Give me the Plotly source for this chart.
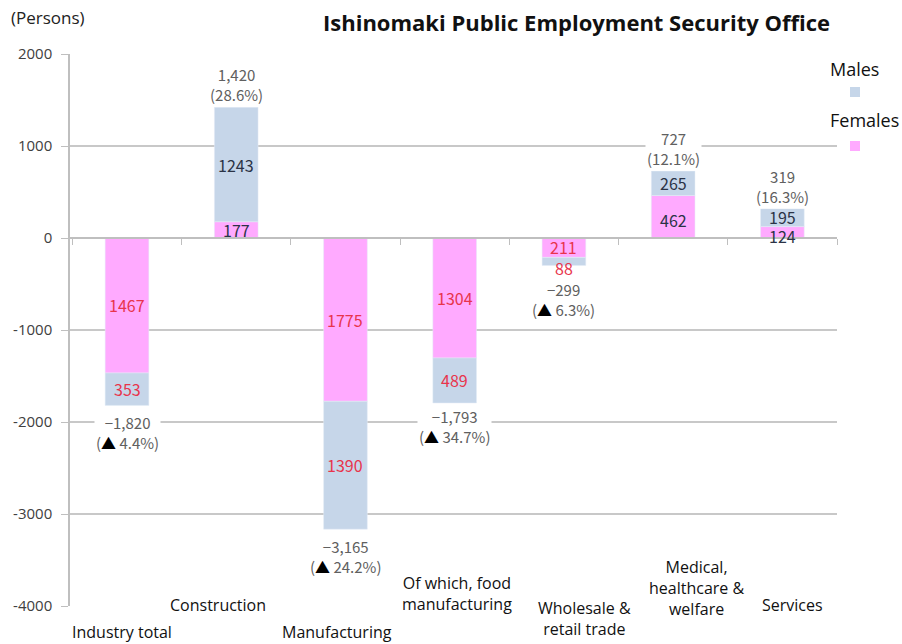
import plotly.graph_objects as go

# ---------------- data ----------------
categories = ["Industry total", "Construction", "Manufacturing",
              "Of which, food manufacturing", "Wholesale & retail trade",
              "Medical, healthcare & welfare", "Services"]
category_labels = ["Industry total", "Construction", "Manufacturing",
                   "Of which, food<br>manufacturing", "Wholesale &<br>retail trade",
                   "Medical,<br>healthcare &<br>welfare", "Services"]
females = [-1467, 177, -1775, -1304, -211, 462, 124]
males = [-353, 1243, -1390, -489, -88, 265, 195]
change_pct = [-4.4, 28.6, -24.2, -34.7, -6.3, 12.1, 16.3]
y_ticks = [2000, 1000, 0, -1000, -2000, -3000, -4000]

# ---------------- style ----------------
W, H = 902, 644
L, R, T, B = 70, 65, 54, 38
PW, PH = W - L - R, H - T - B
C_MALE = "#c6d6e9"
C_FEMALE = "#ffaaff"
C_NEG = "#e8344c"
C_POS = "#2b3346"
CJK = "Noto Sans CJK JP"
SANS = "Open Sans"

# pixel nudges for value labels (style only)
female_lab_dy = [0, 0, 0, 0, 1, -3, -4]
male_lab_dy = [0, 0, 0, 0, -7, 0, 1]
total_lab_dy = [-5, 0, -5, -1, -11, 0, 0]
cat_lab_dy = [-26, 1, -26, 13, -12, 18, 1]
cat_lab_dx = [-5, -18, -8, 2, 21, 23, 10]


def xp(px):
    return (px - L) / PW


def yp(py):
    return (H - B - py) / PH


fig = go.Figure()
fig.add_trace(go.Bar(x=categories, y=females, name="Females",
                     marker_color=C_FEMALE, showlegend=False, hoverinfo="skip"))
fig.add_trace(go.Bar(x=categories, y=males, name="Males",
                     marker_color=C_MALE, showlegend=False, hoverinfo="skip"))

annotations = []
# segment values
for cat, f, m, dyf, dym in zip(categories, females, males, female_lab_dy, male_lab_dy):
    for val, mid, dy in ((f, f / 2, dyf), (m, f + m / 2, dym)):
        annotations.append(dict(
            x=cat, y=mid, xref="x", yref="y", text=str(abs(val)),
            showarrow=False, yanchor="middle", yshift=dy, borderpad=0,
            font=dict(family=CJK, size=16, color=C_NEG if val < 0 else C_POS)))

# totals with change rates
for cat, f, m, p, dy in zip(categories, females, males, change_pct, total_lab_dy):
    tot = f + m
    if tot >= 0:
        s = f"{tot:,}<br>({p:.1f}%)"
        anchor = "bottom"
    else:
        s = (f"−{abs(tot):,}<br>(<span style='color:black'>▲</span> "
             f"{abs(p):.1f}%)")
        anchor = "top"
    annotations.append(dict(
        x=cat, y=tot, xref="x", yref="y", text=s, showarrow=False,
        yanchor=anchor, yshift=dy, bgcolor="white",
        font=dict(family=CJK, size=15, color="#606060")))

# category labels (staggered)
for cat, lab, dy, dx in zip(categories, category_labels, cat_lab_dy, cat_lab_dx):
    annotations.append(dict(
        x=cat, y=y_ticks[-1], xref="x", yref="y", text=lab, showarrow=False,
        yanchor="middle", xanchor="center", yshift=dy, xshift=dx,
        font=dict(family=SANS, size=16, color="#111111")))

# header texts
annotations.append(dict(
    x=xp(9), y=yp(17), xref="paper", yref="paper", text="(Persons)",
    showarrow=False, xanchor="left", yanchor="middle",
    font=dict(family=SANS, size=17, color="#222222")))
annotations.append(dict(
    x=xp(832), y=yp(22), xref="paper", yref="paper",
    text="<b>Ishinomaki Public Employment Security Office</b>",
    showarrow=False, xanchor="right", yanchor="middle",
    font=dict(family=SANS, size=22, color="#111111")))

# custom legend
annotations.append(dict(
    x=xp(828), y=yp(69), xref="paper", yref="paper", text="Males",
    showarrow=False, xanchor="left", yanchor="middle",
    font=dict(family=SANS, size=18, color="#111111")))
annotations.append(dict(
    x=xp(828), y=yp(120), xref="paper", yref="paper", text="Females",
    showarrow=False, xanchor="left", yanchor="middle",
    font=dict(family=SANS, size=18, color="#111111")))

shapes = [
    dict(type="rect", xref="paper", yref="paper", x0=xp(850), x1=xp(860),
         y0=yp(97), y1=yp(87), fillcolor=C_MALE, line=dict(width=0)),
    dict(type="rect", xref="paper", yref="paper", x0=xp(850), x1=xp(860),
         y0=yp(151), y1=yp(141), fillcolor=C_FEMALE, line=dict(width=0)),
]

zero_pos = (0 - y_ticks[-1]) / (y_ticks[0] - y_ticks[-1])

fig.update_layout(
    width=W, height=H, margin=dict(l=L, r=R, t=T, b=B),
    paper_bgcolor="white", plot_bgcolor="white",
    barmode="relative", bargap=0.6,
    annotations=annotations, shapes=shapes,
    xaxis=dict(
        type="category", anchor="free", position=zero_pos,
        showticklabels=False, showline=True, linecolor="#bfbfbf", linewidth=1.5,
        ticks="outside", tickson="boundaries", ticklen=6, tickcolor="#bfbfbf",
        showgrid=False, zeroline=False),
    yaxis=dict(
        range=[y_ticks[-1], y_ticks[0]], tickvals=y_ticks,
        ticktext=[str(v) for v in y_ticks],
        showgrid=True, gridcolor="#c8c8c8", gridwidth=1.5,
        zeroline=False, showline=True, linecolor="#bfbfbf", linewidth=1.5,
        ticks="outside", ticklen=7, tickcolor="#bfbfbf", ticklabelstandoff=6,
        tickfont=dict(family=SANS, size=15, color="#404040")),
)

fig.write_html("out.html", config={"displayModeBar": False},
               post_script="document.body.style.margin='0';")
